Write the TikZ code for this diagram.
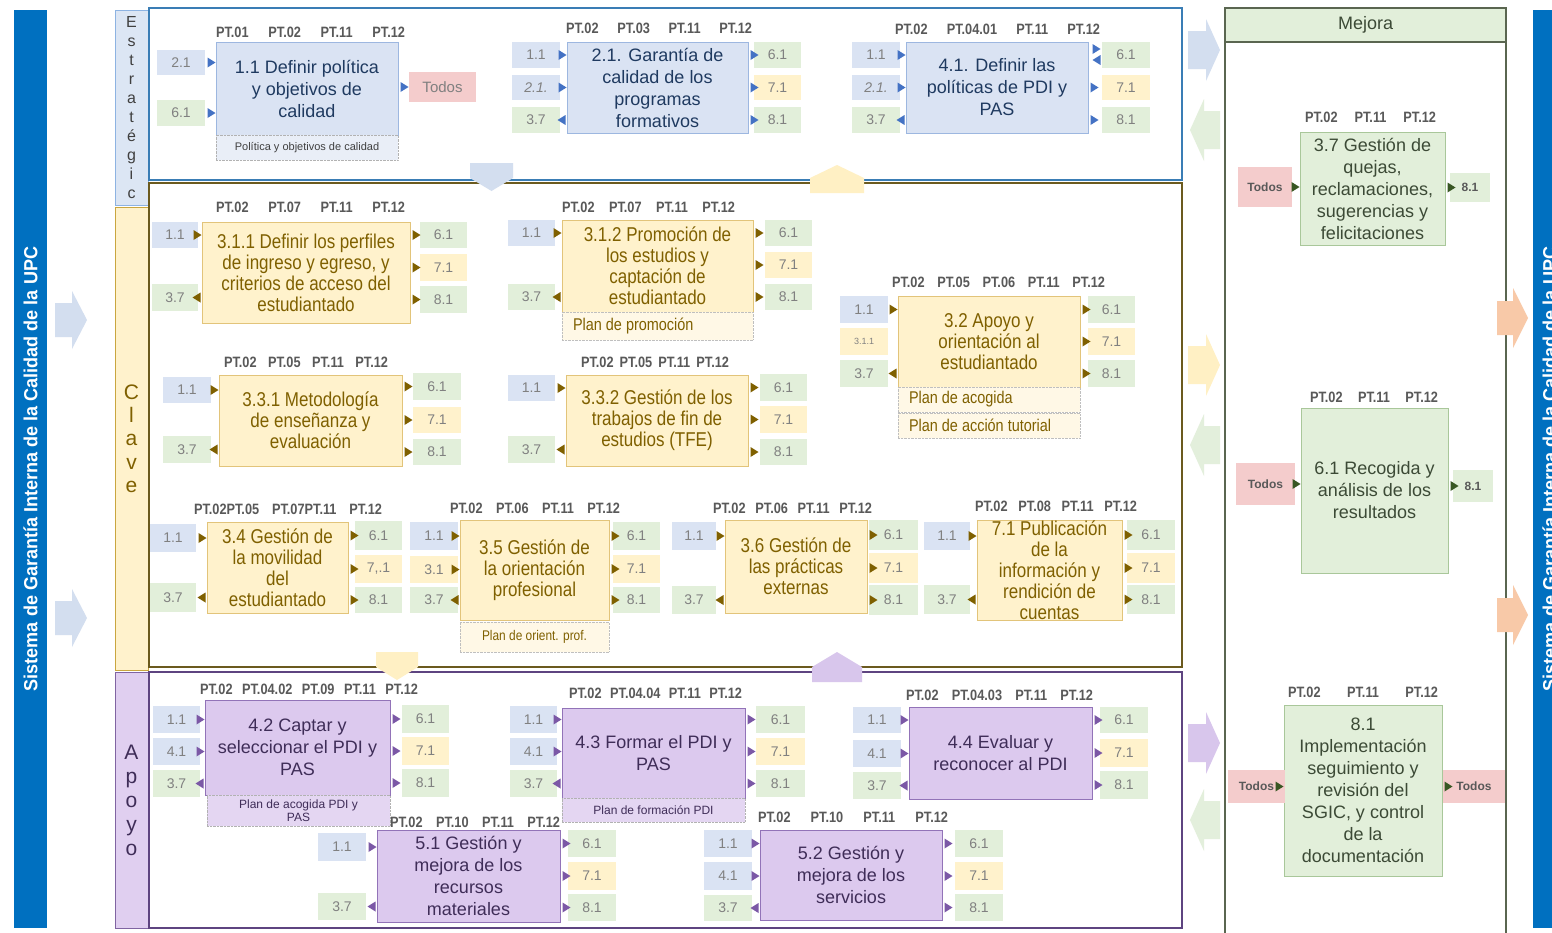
\documentclass[tikz,border=0pt]{standalone}
\usepackage{fontspec}
\setmainfont{Liberation Sans}
\newfontfamily\nrw[FakeStretch=0.85]{Liberation Sans}
\newfontfamily\barf[FakeStretch=0.95]{Liberation Sans}
\usetikzlibrary{calc}
\definecolor{barblue}{HTML}{0070C0}
\definecolor{lblue}{HTML}{DAE3F3}
\definecolor{lgreen}{HTML}{E2EFDA}
\definecolor{lyellow}{HTML}{FFF2CC}
\definecolor{lpink}{HTML}{F4CCCC}
\definecolor{lpurple}{HTML}{DCC9EE}
\definecolor{tagtxt}{HTML}{808080}
\definecolor{pttxt}{HTML}{595959}
\definecolor{sBorder}{HTML}{9DB7E0}
\definecolor{sText}{HTML}{1F3A60}
\definecolor{sMark}{HTML}{4472C4}
\definecolor{cBorder}{HTML}{E2C47A}
\definecolor{cText}{HTML}{7F6000}
\definecolor{cMark}{HTML}{7F6000}
\definecolor{aBorder}{HTML}{9273B8}
\definecolor{aText}{HTML}{3F2D58}
\definecolor{aMark}{HTML}{7B58A6}
\definecolor{mBorder}{HTML}{A9C79A}
\definecolor{mText}{HTML}{3C4A36}
\definecolor{mMark}{HTML}{385723}
\definecolor{frS}{HTML}{3A7DB5}
\definecolor{frC}{HTML}{6B5A1E}
\definecolor{frA}{HTML}{5E4480}
\definecolor{frM}{HTML}{5A6650}
\definecolor{arBlue}{HTML}{D3DEEF}
\definecolor{arGreen}{HTML}{E3EFDC}
\definecolor{arYellow}{HTML}{FFF0C4}
\definecolor{arPurple}{HTML}{D8C6EC}
\definecolor{arOrange}{HTML}{F8C9A8}
\definecolor{colS}{HTML}{DCE6F4}
\definecolor{colSb}{HTML}{8DB3E2}
\definecolor{colC}{HTML}{FFF2CC}
\definecolor{colCb}{HTML}{C9A640}
\definecolor{colA}{HTML}{E0CFF0}
\definecolor{colAb}{HTML}{8064A2}
\definecolor{planSf}{HTML}{E9EEF7}
\definecolor{planCf}{HTML}{FFF8E6}
\definecolor{planAf}{HTML}{E4D6F2}
\tikzset{
 tagst/.style={inner sep=0pt, font=\fontsize{14}{16}\selectfont, text=tagtxt},
 ptst/.style={inner sep=0pt, font=\nrw\bfseries\fontsize{15}{17}\selectfont, text=pttxt},
 boxS/.style={draw=sBorder, fill=lblue, line width=1pt, inner sep=0pt, align=center, text=sText, font=\fontsize{18}{22}\selectfont},
 boxC/.style={draw=cBorder, fill=lyellow, line width=1pt, inner sep=0pt, align=center, text=cText, font=\nrw\fontsize{20}{21}\selectfont},
 boxA/.style={draw=aBorder, fill=lpurple, line width=1pt, inner sep=0pt, align=center, text=aText, font=\fontsize{18}{22}\selectfont},
 boxM/.style={draw=mBorder, fill=lgreen, line width=1pt, inner sep=0pt, align=center, text=mText, font=\fontsize{18}{22}\selectfont},
 planS/.style={draw=gray!60, densely dotted, fill=planSf, inner sep=0pt, align=center, text=black!75, font=\fontsize{11}{13}\selectfont},
 planC/.style={draw=gray!50, densely dotted, fill=planCf, inner sep=0pt, align=center, text=cText, font=\nrw\fontsize{17}{19}\selectfont},
 planA/.style={draw=gray!60, densely dotted, fill=planAf, inner sep=0pt, align=center, text=aText, font=\fontsize{12}{13}\selectfont},
 catst/.style={minimum width=33, inner sep=0pt, align=center, line width=0.8pt},
 bartxt/.style={rotate=90, text=white, font=\barf\bfseries\fontsize{19}{21}\selectfont},
}
\newcommand\mtag{\bfseries\fontsize{12}{14}\selectfont\color{pttxt}}
\newcommand\tg[7]{\node[tagst,fill=#6,minimum width={#4-#2},minimum height={#5-#3}] (#1) at ({(#2+#4)/2},{(#3+#5)/2}) {#7};}
\newcommand\pb[7]{\node[#6,minimum width={#4-#2},minimum height={#5-#3}] (#1) at ({(#2+#4)/2},{(#3+#5)/2}) {#7};}
\newcommand\pth[5]{\node[ptst] (#1) at ({(#2+#3)/2},#4) {\hbox to \dimexpr #3pt-#2pt\relax{#5}};}
\newcommand\inmk[3]{\path (#1.west |- #2) coordinate (mk); \fill[#3] (mk) ++(-8,-5) -- ++(8,5) -- ++(-8,5) -- cycle;}
\newcommand\bkmk[3]{\path (#1.west |- #2) coordinate (mk); \fill[#3] (mk) ++(-1,-5) -- ++(0,10) -- ++(-8,-5) -- cycle;}
\newcommand\outmk[3]{\path (#1.east |- #2) coordinate (mk); \fill[#3] (mk) ++(2,-5) -- ++(8,5) -- ++(-8,5) -- cycle;}
\newcommand\barR[7]{\fill[#7] (#1,#3-#4) -- (#2-#6,#3-#4) -- (#2-#6,#3-#5) -- (#2,#3) -- (#2-#6,#3+#5) -- (#2-#6,#3+#4) -- (#1,#3+#4) -- cycle;}
\newcommand\barL[7]{\fill[#7] (#2,#3-#4) -- (#1+#6,#3-#4) -- (#1+#6,#3-#5) -- (#1,#3) -- (#1+#6,#3+#5) -- (#1+#6,#3+#4) -- (#2,#3+#4) -- cycle;}
\begin{document}
\begin{tikzpicture}[x=1pt,y=-1pt]
\clip (0,0) rectangle (1552,932);
\fill[white] (0,0) rectangle (1552,932);
% side bars
\node[fill=barblue, minimum width=33, minimum height=918, inner sep=0pt] (lbar) at (30.5,469) {};
\node[bartxt] (lbart) at (lbar.center) {Sistema de Garantía Interna de la Calidad de la UPC};
\node[fill=barblue, minimum width=33, minimum height=918, inner sep=0pt] (rbar) at (1549.5,469) {};
\node[bartxt] (rbart) at (rbar.center) {Sistema de Garantía Interna de la Calidad de la UPC};
\barR{55}{87}{320}{17}{29}{15}{arBlue}
\barR{55}{87}{618}{17}{29}{15}{arBlue}
% category columns
\node[catst, fill=colS, draw=colSb, minimum height=195, text=black!75, font=\fontsize{16}{19}\selectfont] (catS) at (131.5,107.5) {E\\s\\t\\r\\a\\t\\é\\g\\i\\c};
\node[catst, fill=colC, draw=colCb, minimum height=463, text=cText, font=\fontsize{21}{23.3}\selectfont] (catC) at (131.5,438.5) {C\\l\\a\\v\\e};
\node[catst, fill=colA, draw=colAb, minimum height=256, text=aText, font=\fontsize{21}{24}\selectfont] (catA) at (131.5,800) {A\\p\\o\\y\\o};
% frames
\draw[frS, line width=1.5pt] (149,8) rectangle (1182,180);
\draw[frC, line width=1.5pt] (149,183) rectangle (1182,667);
\draw[frA, line width=1.5pt] (149,672) rectangle (1182,928);
\draw[frM, line width=1.5pt] (1225,8) rectangle (1506,940);
\node[draw=frM, line width=1.2pt, fill=lgreen, minimum width=281, minimum height=34, inner sep=0pt, text=mText, font=\fontsize{18}{20}\selectfont] (mejh) at (1365.5,25) {Mejora};
% ===== Estrategic =====
\pb{p11}{216}{42}{398}{135}{boxS}{1.1 Definir política\\y objetivos de\\calidad}
\pb{p11pl}{216}{135}{398}{160}{planS}{Política y objetivos de calidad}
\pth{p11pt}{216}{405}{32}{PT.01\hfill PT.02\hfill PT.11\hfill PT.12}
\tg{p11a}{157}{50}{205}{75}{lblue}{2.1}
\tg{p11b}{157}{100}{205}{126}{lgreen}{6.1}
\tg{p11o}{409}{72}{476}{102}{lpink}{\fontsize{15}{17}\selectfont Todos}
\inmk{p11}{p11a}{sMark}\inmk{p11}{p11b}{sMark}\outmk{p11}{p11o}{sMark}
\pb{p21}{567}{42}{748}{133}{boxS}{2.1. Garantía de\\calidad de los\\programas\\formativos}
\pth{p21pt}{566}{752}{28}{PT.02\hfill PT.03\hfill PT.11\hfill PT.12}
\tg{p21a}{512}{42}{560}{68}{lblue}{1.1}
\tg{p21b}{512}{75}{560}{100}{lblue}{\textit{2.1.}}
\tg{p21c}{512}{107}{560}{133}{lgreen}{3.7}
\tg{p21d}{754}{42}{801}{68}{lgreen}{6.1}
\tg{p21e}{754}{75}{801}{100}{lyellow}{7.1}
\tg{p21f}{754}{107}{801}{133}{lgreen}{8.1}
\inmk{p21}{p21a}{sMark}\inmk{p21}{p21b}{sMark}\bkmk{p21}{p21c}{sMark}
\outmk{p21}{p21d}{sMark}\outmk{p21}{p21e}{sMark}\outmk{p21}{p21f}{sMark}
\pb{p41}{906}{42}{1088}{133}{boxS}{4.1. Definir las\\políticas de PDI y\\PAS}
\pth{p41pt}{895}{1100}{29}{PT.02\hfill PT.04.01\hfill PT.11\hfill PT.12}
\tg{p41a}{852}{42}{900}{68}{lblue}{1.1}
\tg{p41b}{852}{75}{900}{100}{lblue}{\textit{2.1.}}
\tg{p41c}{852}{107}{900}{133}{lgreen}{3.7}
\tg{p41d}{1102}{42}{1150}{68}{lgreen}{6.1}
\tg{p41e}{1102}{75}{1150}{100}{lyellow}{7.1}
\tg{p41f}{1102}{107}{1150}{133}{lgreen}{8.1}
\inmk{p41}{p41a}{sMark}\inmk{p41}{p41b}{sMark}\bkmk{p41}{p41c}{sMark}
\path (p41.east |- p41d) coordinate (mk);
\fill[sMark] (mk) ++(4,-11) -- ++(8,5) -- ++(-8,5) -- cycle;
\fill[sMark] (mk) ++(12,0) -- ++(0,10) -- ++(-8,-5) -- cycle;
\outmk{p41}{p41e}{sMark}\outmk{p41}{p41f}{sMark}
% ===== Clave =====
\pb{p311}{202}{222}{410}{323}{boxC}{3.1.1 Definir\ los perfiles\\de ingreso y egreso, y\\criterios de acceso del\\estudiantado}
\pth{p311pt}{216}{405}{207}{PT.02\hfill PT.07\hfill PT.11\hfill PT.12}
\tg{p311a}{152}{222}{198}{248}{lblue}{1.1}
\tg{p311c}{152}{284}{198}{311}{lgreen}{3.7}
\tg{p311d}{420}{222}{467}{248}{lgreen}{6.1}
\tg{p311e}{420}{254}{467}{281}{lyellow}{7.1}
\tg{p311f}{420}{286}{467}{313}{lgreen}{8.1}
\inmk{p311}{p311a}{cMark}\bkmk{p311}{p311c}{cMark}
\outmk{p311}{p311d}{cMark}\outmk{p311}{p311e}{cMark}\outmk{p311}{p311f}{cMark}
\pb{p312}{562}{220}{753}{312}{boxC}{3.1.2 Promoción de\\los estudios y\\captación de\\estudiantado}
\pb{p312pl}{562}{312}{753}{340}{planC}{\hbox to 191pt{\hspace{11pt}Plan de promoción\hfil}}
\pth{p312pt}{562}{735}{207}{PT.02\hfill PT.07\hfill PT.11\hfill PT.12}
\tg{p312a}{508}{220}{555}{246}{lblue}{1.1}
\tg{p312c}{508}{284}{555}{310}{lgreen}{3.7}
\tg{p312d}{765}{220}{812}{246}{lgreen}{6.1}
\tg{p312e}{765}{252}{812}{278}{lyellow}{7.1}
\tg{p312f}{765}{284}{812}{310}{lgreen}{8.1}
\inmk{p312}{p312a}{cMark}\bkmk{p312}{p312c}{cMark}
\outmk{p312}{p312d}{cMark}\outmk{p312}{p312e}{cMark}\outmk{p312}{p312f}{cMark}
\pb{p32}{898}{296}{1080}{387}{boxC}{3.2 Apoyo y\\orientación\ al\\estudiantado}
\pb{p32pla}{898}{387}{1080}{412}{planC}{\hbox to 182pt{\hspace{11pt}Plan de acogida\hfil}}
\pb{p32plb}{898}{413}{1080}{438}{planC}{\hbox to 182pt{\hspace{11pt}Plan de acción tutorial\hfil}}
\pth{p32pt}{892}{1105}{282}{PT.02\hfill PT.05\hfill PT.06\hfill PT.11\hfill PT.12}
\tg{p32a}{840}{296}{888}{323}{lblue}{1.1}
\tg{p32b}{840}{328}{888}{355}{lyellow}{\fontsize{9}{10}\selectfont 3.1.1}
\tg{p32c}{840}{360}{888}{387}{lgreen}{3.7}
\tg{p32d}{1088}{296}{1135}{323}{lgreen}{6.1}
\tg{p32e}{1088}{328}{1135}{355}{lyellow}{7.1}
\tg{p32f}{1088}{360}{1135}{387}{lgreen}{8.1}
\inmk{p32}{p32a}{cMark}\bkmk{p32}{p32c}{cMark}
\outmk{p32}{p32d}{cMark}\outmk{p32}{p32e}{cMark}\outmk{p32}{p32f}{cMark}
\pb{p331}{219}{375}{402}{466}{boxC}{3.3.1 Metodología\\de enseñanza\ y\\evaluación}
\pth{p331pt}{224}{388}{362}{PT.02\hfill PT.05\hfill PT.11\hfill PT.12}
\tg{p331a}{163}{377}{211}{403}{lblue}{1.1}
\tg{p331c}{163}{436}{211}{463}{lgreen}{3.7}
\tg{p331d}{413}{373}{461}{400}{lgreen}{6.1}
\tg{p331e}{413}{407}{461}{433}{lyellow}{7.1}
\tg{p331f}{413}{439}{461}{465}{lgreen}{8.1}
\inmk{p331}{p331a}{cMark}\bkmk{p331}{p331c}{cMark}
\outmk{p331}{p331d}{cMark}\outmk{p331}{p331e}{cMark}\outmk{p331}{p331f}{cMark}
\pb{p332}{566}{375}{748}{466}{boxC}{3.3.2 Gestión de los\\trabajos de fin de\\estudios (TFE)}
\pth{p332pt}{581}{729}{362}{PT.02\hfill PT.05\hfill PT.11\hfill PT.12}
\tg{p332a}{508}{375}{555}{401}{lblue}{1.1}
\tg{p332c}{508}{436}{555}{463}{lgreen}{3.7}
\tg{p332d}{760}{374}{807}{401}{lgreen}{6.1}
\tg{p332e}{760}{406}{807}{433}{lyellow}{7.1}
\tg{p332f}{760}{439}{807}{465}{lgreen}{8.1}
\inmk{p332}{p332a}{cMark}\bkmk{p332}{p332c}{cMark}
\outmk{p332}{p332d}{cMark}\outmk{p332}{p332e}{cMark}\outmk{p332}{p332f}{cMark}
\pb{p34}{207}{522}{348}{613}{boxC}{3.4 Gestión de\\la movilidad\\del\\estudiantado}
\pth{p34pt}{194}{382}{509}{PT.02PT.05\hfill PT.07PT.11\hfill PT.12}
\tg{p34a}{150}{524}{196}{552}{lblue}{1.1}
\tg{p34c}{150}{583}{196}{612}{lgreen}{3.7}
\tg{p34d}{355}{521}{402}{550}{lgreen}{6.1}
\tg{p34e}{355}{555}{402}{583}{lyellow}{7,.1}
\tg{p34f}{355}{587}{402}{613}{lgreen}{8.1}
\inmk{p34}{p34a}{cMark}\bkmk{p34}{p34c}{cMark}
\outmk{p34}{p34d}{cMark}\outmk{p34}{p34e}{cMark}\outmk{p34}{p34f}{cMark}
\pb{p35}{460}{520}{609}{620}{boxC}{3.5 Gestión de\\la orientación\\profesional}
\pb{p35pl}{460}{622}{609}{652}{planC}{\fontsize{14}{16}\selectfont Plan\ de orient. prof.}
\pth{p35pt}{450}{620}{508}{PT.02\hfill PT.06\hfill PT.11\hfill PT.12}
\tg{p35a}{410}{522}{458}{550}{lblue}{1.1}
\tg{p35b}{410}{556}{458}{583}{lyellow}{3.1}
\tg{p35c}{410}{587}{458}{613}{lgreen}{3.7}
\tg{p35d}{613}{522}{660}{550}{lgreen}{6.1}
\tg{p35e}{613}{555}{660}{583}{lyellow}{7.1}
\tg{p35f}{613}{587}{660}{613}{lgreen}{8.1}
\inmk{p35}{p35a}{cMark}\inmk{p35}{p35b}{cMark}\bkmk{p35}{p35c}{cMark}
\outmk{p35}{p35d}{cMark}\outmk{p35}{p35e}{cMark}\outmk{p35}{p35f}{cMark}
\pb{p36}{725}{520}{867}{613}{boxC}{3.6 Gestión de\\las prácticas\\externas}
\pth{p36pt}{713}{872}{508}{PT.02\hfill PT.06\hfill PT.11\hfill PT.12}
\tg{p36a}{672}{522}{716}{550}{lblue}{1.1}
\tg{p36c}{672}{586}{716}{614}{lgreen}{3.7}
\tg{p36d}{869}{520}{918}{550}{lgreen}{6.1}
\tg{p36e}{869}{553}{918}{583}{lyellow}{7.1}
\tg{p36f}{869}{585}{918}{615}{lgreen}{8.1}
\inmk{p36}{p36a}{cMark}\bkmk{p36}{p36c}{cMark}
\outmk{p36}{p36d}{cMark}\outmk{p36}{p36e}{cMark}\outmk{p36}{p36f}{cMark}
\pb{p71}{977}{520}{1122}{620}{boxC}{7.1 Publicación\\de la\\información\ y\\rendición\ de\\cuentas}
\pth{p71pt}{975}{1137}{506}{PT.02\hfill PT.08\hfill PT.11\hfill PT.12}
\tg{p71a}{924}{522}{970}{550}{lblue}{1.1}
\tg{p71c}{924}{585}{970}{614}{lgreen}{3.7}
\tg{p71d}{1127}{520}{1175}{550}{lgreen}{6.1}
\tg{p71e}{1127}{553}{1175}{583}{lyellow}{7.1}
\tg{p71f}{1127}{585}{1175}{614}{lgreen}{8.1}
\inmk{p71}{p71a}{cMark}\bkmk{p71}{p71c}{cMark}
\outmk{p71}{p71d}{cMark}\outmk{p71}{p71e}{cMark}\outmk{p71}{p71f}{cMark}
% ===== Apoyo =====
\pb{p42}{205}{700}{390}{795}{boxA}{4.2 Captar y\\seleccionar el PDI y\\PAS}
\pb{p42pl}{207}{795}{390}{826}{planA}{Plan\ de acogida PDI\ y\\PAS}
\pth{p42pt}{200}{418}{689}{PT.02\hfill PT.04.02\hfill PT.09\hfill PT.11\hfill PT.12}
\tg{p42a}{153}{706}{200}{733}{lblue}{1.1}
\tg{p42b}{153}{738}{200}{765}{lblue}{4.1}
\tg{p42c}{153}{770}{200}{797}{lgreen}{3.7}
\tg{p42d}{402}{705}{449}{733}{lgreen}{6.1}
\tg{p42e}{402}{737}{449}{765}{lyellow}{7.1}
\tg{p42f}{402}{769}{449}{797}{lgreen}{8.1}
\inmk{p42}{p42a}{aMark}\inmk{p42}{p42b}{aMark}\bkmk{p42}{p42c}{aMark}
\outmk{p42}{p42d}{aMark}\outmk{p42}{p42e}{aMark}\outmk{p42}{p42f}{aMark}
\pb{p43}{562}{708}{745}{798}{boxA}{4.3 Formar el PDI y\\PAS}
\pb{p43pl}{562}{798}{745}{822}{planA}{Plan de formación PDI}
\pth{p43pt}{569}{742}{693}{PT.02\hfill PT.04.04\hfill PT.11\hfill PT.12}
\tg{p43a}{510}{706}{557}{733}{lblue}{1.1}
\tg{p43b}{510}{738}{557}{765}{lblue}{4.1}
\tg{p43c}{510}{770}{557}{797}{lgreen}{3.7}
\tg{p43d}{756}{706}{805}{733}{lgreen}{6.1}
\tg{p43e}{756}{738}{805}{765}{lyellow}{7.1}
\tg{p43f}{756}{770}{805}{797}{lgreen}{8.1}
\inmk{p43}{p43a}{aMark}\inmk{p43}{p43b}{aMark}\bkmk{p43}{p43c}{aMark}
\outmk{p43}{p43d}{aMark}\outmk{p43}{p43e}{aMark}\outmk{p43}{p43f}{aMark}
\pb{p44}{909}{707}{1092}{799}{boxA}{4.4 Evaluar y\\reconocer al PDI}
\pth{p44pt}{906}{1093}{695}{PT.02\hfill PT.04.03\hfill PT.11\hfill PT.12}
\tg{p44a}{853}{707}{901}{733}{lblue}{1.1}
\tg{p44b}{853}{740}{901}{767}{lblue}{4.1}
\tg{p44c}{853}{772}{901}{799}{lgreen}{3.7}
\tg{p44d}{1100}{707}{1148}{733}{lgreen}{6.1}
\tg{p44e}{1100}{739}{1148}{767}{lyellow}{7.1}
\tg{p44f}{1100}{771}{1148}{799}{lgreen}{8.1}
\inmk{p44}{p44a}{aMark}\inmk{p44}{p44b}{aMark}\bkmk{p44}{p44c}{aMark}
\outmk{p44}{p44d}{aMark}\outmk{p44}{p44e}{aMark}\outmk{p44}{p44f}{aMark}
\pb{p51}{377}{830}{560}{922}{boxA}{5.1 Gestión y\\mejora de los\\recursos\\materiales}
\pth{p51pt}{390}{560}{822}{PT.02\hfill PT.10\hfill PT.11\hfill PT.12}
\tg{p51a}{318}{833}{366}{861}{lblue}{1.1}
\tg{p51c}{318}{893}{366}{920}{lgreen}{3.7}
\tg{p51d}{568}{830}{616}{857}{lgreen}{6.1}
\tg{p51e}{568}{862}{616}{890}{lyellow}{7.1}
\tg{p51f}{568}{894}{616}{921}{lgreen}{8.1}
\inmk{p51}{p51a}{aMark}\bkmk{p51}{p51c}{aMark}
\outmk{p51}{p51d}{aMark}\outmk{p51}{p51e}{aMark}\outmk{p51}{p51f}{aMark}
\pb{p52}{760}{830}{942}{920}{boxA}{5.2 Gestión y\\mejora de los\\servicios}
\pth{p52pt}{758}{948}{817}{PT.02\hfill PT.10\hfill PT.11\hfill PT.12}
\tg{p52a}{704}{830}{752}{857}{lblue}{1.1}
\tg{p52b}{704}{862}{752}{890}{lblue}{4.1}
\tg{p52c}{704}{895}{752}{921}{lgreen}{3.7}
\tg{p52d}{955}{830}{1003}{857}{lgreen}{6.1}
\tg{p52e}{955}{862}{1003}{890}{lyellow}{7.1}
\tg{p52f}{955}{894}{1003}{921}{lgreen}{8.1}
\inmk{p52}{p52a}{aMark}\inmk{p52}{p52b}{aMark}\bkmk{p52}{p52c}{aMark}
\outmk{p52}{p52d}{aMark}\outmk{p52}{p52e}{aMark}\outmk{p52}{p52f}{aMark}
% ===== Mejora =====
\pb{p37}{1300}{132}{1445}{245}{boxM}{3.7 Gestión de\\quejas,\\reclamaciones,\\sugerencias y\\felicitaciones}
\pth{p37pt}{1305}{1436}{117}{PT.02\hfill PT.11\hfill PT.12}
\tg{p37a}{1238}{167}{1292}{207}{lpink}{\mtag Todos}
\tg{p37b}{1450}{173}{1490}{202}{lgreen}{\mtag 8.1}
\inmk{p37}{p37a}{mMark}\outmk{p37}{p37b}{mMark}
\pb{p61}{1301}{408}{1448}{573}{boxM}{6.1 Recogida y\\análisis de los\\resultados}
\pth{p61pt}{1310}{1438}{397}{PT.02\hfill PT.11\hfill PT.12}
\tg{p61a}{1236}{463}{1295}{505}{lpink}{\mtag Todos}
\tg{p61b}{1453}{470}{1493}{502}{lgreen}{\mtag 8.1}
\inmk{p61}{p61a}{mMark}\outmk{p61}{p61b}{mMark}
\pb{p81}{1284}{705}{1442}{876}{boxM}{8.1\\Implementación\\seguimiento y\\revisión del\\SGIC, y control\\de la\\documentación}
\pth{p81pt}{1288}{1438}{692}{PT.02\hfill PT.11\hfill PT.12}
\tg{p81a}{1228}{770}{1285}{803}{lpink}{\mtag Todos}
\tg{p81b}{1443}{770}{1505}{803}{lpink}{\mtag Todos}
\inmk{p81}{p81a}{mMark}\outmk{p81}{p81b}{mMark}
% ===== block arrows =====
\fill[arBlue] (470,163) -- (513,163) -- (513,178) -- (491.5,191) -- (470,178) -- cycle;
\fill[arYellow] (810,193) -- (810,178) -- (837,165) -- (864,178) -- (864,193) -- cycle;
\fill[arYellow] (376,652) -- (418,652) -- (418,667) -- (397,680) -- (376,667) -- cycle;
\fill[arPurple] (812,682) -- (812,667) -- (837,652) -- (862,667) -- (862,682) -- cycle;
\barR{1188}{1220}{50}{19}{31}{14}{arBlue}
\barL{1190}{1220}{130}{19}{31}{14}{arGreen}
\barR{1188}{1220}{365}{19}{31}{14}{arYellow}
\barL{1190}{1220}{445}{19}{31}{14}{arGreen}
\barR{1188}{1220}{743}{19}{31}{14}{arPurple}
\barL{1190}{1220}{820}{19}{31}{14}{arGreen}
\barR{1497}{1528}{318}{17}{30}{15}{arOrange}
\barR{1497}{1528}{615}{17}{30}{15}{arOrange}
\end{tikzpicture}
\end{document}
